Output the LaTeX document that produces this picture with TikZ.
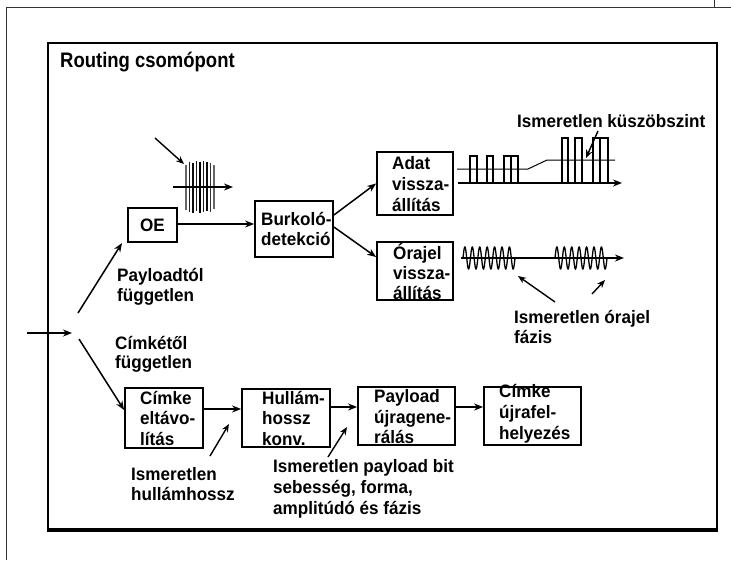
\documentclass[tikz,border=0pt]{standalone}
\usepackage{fontspec}
\setmainfont{Liberation Sans}
\newfontfamily\condfont[FakeStretch=0.95]{Liberation Sans Bold}
\newfontfamily\titlefont[FakeStretch=0.88]{Liberation Sans Bold}
\usetikzlibrary{arrows.meta}
\begin{document}
\begin{tikzpicture}[x=1pt,y=-1pt,
  box/.style={draw,line width=1.8pt,inner sep=0pt},
  arr/.style={line width=1.5pt,-{Stealth[length=9pt,width=7pt]}},
  thinarr/.style={line width=1.4pt,-{Stealth[length=8pt,width=6.5pt]}},
  lbl/.style={font=\condfont\fontsize{18}{19.5}\selectfont,align=left,inner sep=0pt,anchor=west},
  pulse/.style={line width=1.2pt},
  ]
\useasboundingbox (0,0) rectangle (731,560);
% outer frame
\draw[line width=0.8pt, black!80] (6,560) -- (6,7) -- (731,7);
\draw[line width=0.8pt, black!80] (714,0) -- (714,7);
% main box
\node[draw, line width=2pt, minimum width=669pt, minimum height=486pt, anchor=north west, inner sep=0pt] (main) at (47,42) {};
\draw[line width=3pt] (main.south west) -- (main.south east);
\node[lbl, font=\titlefont\fontsize{21}{22}\selectfont] (title) at (60,62) {Routing csomópont};

% boxes
\node[box, minimum width=49pt, minimum height=34pt] (oe) at (152.5,225) {};
\node[lbl, anchor=center] (oet) at (152.5,225) {OE};
\node[box, minimum width=78pt, minimum height=56pt] (burk) at (294,229) {};
\node[lbl] (burkt) at (261,229) {Burkoló-\\detekció};
\node[box, minimum width=76pt, minimum height=63pt] (adat) at (415,183.5) {};
\node[lbl, font=\condfont\fontsize{18}{21}\selectfont] (adatt) at (392,184) {Adat\\vissza-\\állítás};
\node[box, minimum width=76pt, minimum height=58pt] (orajel) at (415,271) {};
\node[lbl, font=\condfont\fontsize{18}{20}\selectfont] (orajelt) at (393,272) {Órajel\\vissza-\\állítás};
\node[box, minimum width=78pt, minimum height=60pt] (cimke) at (164,418) {};
\node[lbl, font=\condfont\fontsize{18}{20.5}\selectfont] (cimket) at (140,418) {Címke\\eltávo-\\lítás};
\node[box, minimum width=88pt, minimum height=58pt] (hull) at (286,418) {};
\node[lbl, font=\condfont\fontsize{18}{20.5}\selectfont] (hullt) at (262,418) {Hullám-\\hossz\\konv.};
\node[box, minimum width=97pt, minimum height=58pt] (payload) at (406.5,416) {};
\node[lbl, font=\condfont\fontsize{18}{20.5}\selectfont] (payloadt) at (374,417) {Payload\\újragene-\\rálás};
\node[box, minimum width=97pt, minimum height=58pt] (cimke2) at (532.5,416) {};
\node[lbl, font=\condfont\fontsize{18}{21}\selectfont] (cimke2t) at (499,414) {Címke\\újrafel-\\helyezés};

% labels
\node[lbl] (l1) at (117,287) {Payloadtól\\független};
\node[lbl] (l2) at (115,354.5) {Címkétől\\független};
\node[lbl] (l3) at (517,121) {Ismeretlen küszöbszint};
\node[lbl] (l4) at (514,327) {Ismeretlen órajel\\fázis};
\node[lbl] (l5) at (131,484) {Ismeretlen\\hullámhossz};
\node[lbl, font=\condfont\fontsize{18}{21}\selectfont] (l6) at (273,489) {Ismeretlen payload bit\\sebesség, forma,\\amplitúdó és fázis};

% input and branches
\coordinate (inA) at (27,333);
\coordinate (jn) at (72,333);
\draw[arr, line width=2.2pt] (inA) -- (jn);
\coordinate (up0) at (78,313);
\coordinate (up1) at (122,243);
\draw[arr] (up0) -- (up1);
\coordinate (dn0) at (79,339);
\draw[arr] (dn0) -- ([yshift=8pt]cimke.west);

% main chain
\draw[arr] ([yshift=1pt]oe.east) -- ([yshift=1pt]oe.east -| burk.west);
\draw[arr] ([yshift=14pt]burk.east) -- (adat.west);
\draw[arr] ([yshift=2pt]burk.east) -- ([yshift=14pt]orajel.west);
\draw[arr] ([yshift=9pt]cimke.east) -- ([yshift=9pt]cimke.east -| hull.west);
\draw[arr] ([yshift=11pt]hull.east) -- ([yshift=11pt]hull.east -| payload.west);
\draw[arr] ([yshift=9pt]payload.east) -- ([yshift=9pt]payload.east -| cimke2.west);

% optical burst
\coordinate (b0) at (155,138);
\coordinate (b1) at (184,164);
\draw[thinarr] (b0) -- (b1);
\foreach \x/\a/\b/\c in {186/165/210/60, 189.5/162/212/85, 193/163/213/95, 196.5/161/211/90, 200/162/213/100, 203.5/161/212/90, 207/162/211/95, 210.5/163/212/80, 214/165/209/60}
  \draw[line width=1.3pt, black!\c] (\x,\a) -- (\x,\b);
\coordinate (ba0) at (173,187);
\coordinate (ba1) at (233,187);
\draw[arr, line width=1.5pt] (ba0) -- (ba1);

% data pulses
\draw[line width=1pt] (457,169) -- (528,169) -- (547,160) -- (615,160);
\coordinate (pa0) at (458,183);
\coordinate (pa1) at (622,183);
\foreach \a/\b in {470/477,487/493,504/511,511/518}
  \draw[pulse] (\a,183) -- (\a,156) -- (\b,156) -- (\b,183);
\foreach \a/\b in {562/568,575/582,593/600,600/608}
  \draw[pulse] (\a,183) -- (\a,138) -- (\b,138) -- (\b,183);
\draw[arr, line width=2.2pt] (pa0) -- (pa1);
\coordinate (k0) at (598,131);
\coordinate (k1) at (586,158);
\draw[thinarr] (k0) -- (k1);

% clock
\coordinate (ca0) at (461,258);
\coordinate (ca1) at (624,258);
\draw[line width=1.3pt, domain=463:515, samples=220, smooth] plot ({\x},{258-11*sin((\x-463)/7.43*360)});
\draw[line width=1.3pt, domain=555:607, samples=220, smooth] plot ({\x},{258-11*sin((\x-555)/7.43*360)});
\draw[arr, line width=2pt] (ca0) -- (ca1);
\coordinate (c0) at (555,302);
\coordinate (c1) at (518,276);
\draw[thinarr] (c0) -- (c1);
\coordinate (c2) at (592,294);
\coordinate (c3) at (605,280);
\draw[thinarr] (c2) -- (c3);

% lower annotation arrows
\coordinate (h0) at (210,456);
\coordinate (h1) at (229,424);
\draw[thinarr] (h0) -- (h1);
\coordinate (p0) at (328,457);
\coordinate (p1) at (347,427);
\draw[thinarr] (p0) -- (p1);
\end{tikzpicture}
\end{document}
